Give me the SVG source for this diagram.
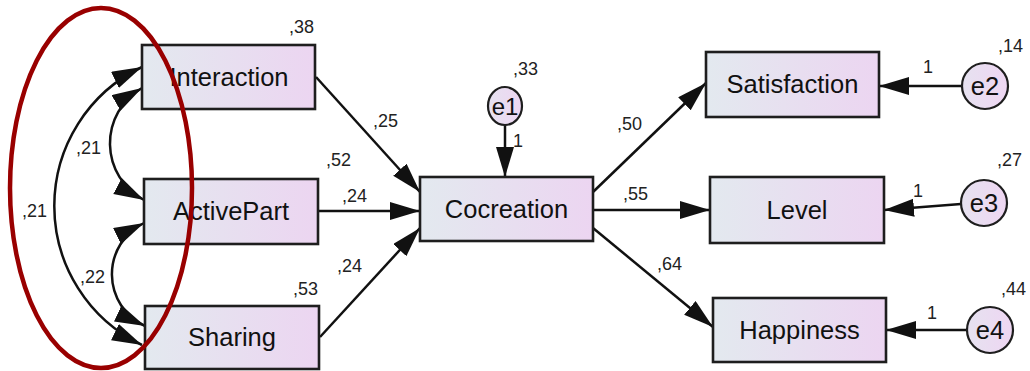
<svg xmlns="http://www.w3.org/2000/svg" width="1030" height="371" viewBox="0 0 1030 371">
<style>
.box{stroke:#1e1e1e;stroke-width:2.6;fill:url(#g)}
.err{stroke:#1e1e1e;stroke-width:2.2;fill:url(#ge)}
.lbl{font-family:"Liberation Sans",Arial,sans-serif;font-size:25.5px;fill:#111;text-anchor:middle}
.num{font-family:"Liberation Sans",Arial,sans-serif;font-size:18px;fill:#222}
.ln{stroke:#111;stroke-width:2.5;fill:none;marker-end:url(#ah)}
.cv{stroke:#111;stroke-width:2.5;fill:none;marker-end:url(#ah);marker-start:url(#as)}
</style>
<defs>
<linearGradient id="g" x1="0" y1="0" x2="1" y2="0">
<stop offset="0" stop-color="#e3e9ef"/>
<stop offset="1" stop-color="#ecd5f1"/>
</linearGradient>
<linearGradient id="ge" x1="0" y1="0" x2="1" y2="0">
<stop offset="0" stop-color="#e6e2f0"/>
<stop offset="1" stop-color="#eed6f2"/>
</linearGradient>
<marker id="ah" markerUnits="userSpaceOnUse" markerWidth="31" markerHeight="19" refX="30" refY="9" orient="auto">
<path d="M0,0 L30,9 L0,18 Z" fill="#111"/>
</marker>
<marker id="as" markerUnits="userSpaceOnUse" markerWidth="31" markerHeight="19" refX="30" refY="9" orient="auto-start-reverse">
<path d="M0,0 L30,9 L0,18 Z" fill="#111"/>
</marker>
</defs>
<rect width="1030" height="371" fill="#ffffff"/>

<g id="connectors">
<path class="cv" d="M142,67 A154,154 0 0 0 142,345"/>
<path class="cv" d="M142,88 A64,64 0 0 0 144,200"/>
<path class="cv" d="M144,223 A57,57 0 0 0 145,326"/>
<line class="ln" x1="316" y1="77" x2="420" y2="192"/>
<line class="ln" x1="318" y1="211" x2="420" y2="211"/>
<line class="ln" x1="320" y1="337" x2="420" y2="228"/>
<line class="ln" x1="505" y1="125" x2="505" y2="177"/>
<line class="ln" x1="593" y1="192" x2="706" y2="83"/>
<line class="ln" x1="593" y1="210" x2="710" y2="210"/>
<line class="ln" x1="593" y1="228" x2="713" y2="327"/>
<line class="ln" x1="962" y1="86" x2="879" y2="86"/>
<line class="ln" x1="961" y1="204" x2="884" y2="210"/>
<line class="ln" x1="967" y1="330" x2="886" y2="330"/>
</g>

<g id="interaction">
<rect class="box" x="142" y="45" width="173" height="64"/>
<text class="lbl" x="229" y="86">Interaction</text>
<text class="num" x="289" y="33">,38</text>
</g>
<g id="activepart">
<rect class="box" x="144" y="179" width="174" height="65"/>
<text class="lbl" x="231" y="220">ActivePart</text>
<text class="num" x="326" y="166">,52</text>
</g>
<g id="sharing">
<rect class="box" x="145" y="306" width="174" height="63"/>
<text class="lbl" x="232" y="346">Sharing</text>
<text class="num" x="293" y="295">,53</text>
</g>
<g id="cocreation">
<rect class="box" x="420" y="177" width="173" height="64"/>
<text class="lbl" x="506.5" y="218">Cocreation</text>
</g>
<g id="e1">
<ellipse class="err" cx="505" cy="106" rx="17" ry="19"/>
<text class="lbl" x="505" y="115" style="font-size:24px">e1</text>
<text class="num" x="513" y="75">,33</text>
</g>
<g id="satisfaction">
<rect class="box" x="706" y="52" width="173" height="65"/>
<text class="lbl" x="792.5" y="93">Satisfaction</text>
</g>
<g id="level">
<rect class="box" x="710" y="177" width="174" height="66"/>
<text class="lbl" x="797" y="219">Level</text>
</g>
<g id="happiness">
<rect class="box" x="713" y="298" width="173" height="64"/>
<text class="lbl" x="799.5" y="339">Happiness</text>
</g>
<g id="e2">
<circle class="err" cx="985" cy="86" r="23"/>
<text class="lbl" x="985" y="95">e2</text>
<text class="num" x="998" y="52">,14</text>
</g>
<g id="e3">
<circle class="err" cx="984" cy="203" r="23"/>
<text class="lbl" x="984" y="212">e3</text>
<text class="num" x="997" y="166">,27</text>
</g>
<g id="e4">
<circle class="err" cx="990" cy="330" r="23"/>
<text class="lbl" x="990" y="339">e4</text>
<text class="num" x="1001" y="295">,44</text>
</g>

<g id="path-labels">
<text class="num" x="22" y="217">,21</text>
<text class="num" x="76" y="154">,21</text>
<text class="num" x="80" y="283">,22</text>
<text class="num" x="373" y="127">,25</text>
<text class="num" x="342" y="202">,24</text>
<text class="num" x="337" y="272">,24</text>
<text class="num" x="513" y="147">1</text>
<text class="num" x="617" y="130">,50</text>
<text class="num" x="623" y="200">,55</text>
<text class="num" x="657" y="270">,64</text>
<text class="num" x="923" y="73">1</text>
<text class="num" x="913" y="197">1</text>
<text class="num" x="927" y="319">1</text>
</g>

<g id="highlight">
<ellipse cx="101" cy="188" rx="91" ry="180" fill="none" stroke="#990000" stroke-width="4.5"/>
</g>
</svg>
